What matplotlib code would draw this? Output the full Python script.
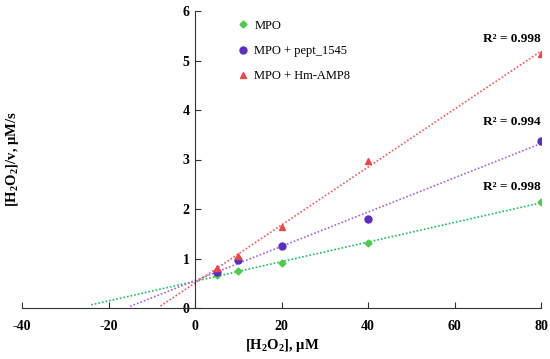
import numpy as np
import matplotlib
matplotlib.use("Agg")
import matplotlib.pyplot as plt

# Data
conc = [5, 10, 20, 40, 80]
mpo = [0.66, 0.75, 0.91, 1.31, 2.14]
mpo_pept = [0.73, 0.96, 1.26, 1.80, 3.38]
mpo_hm = [0.80, 1.05, 1.64, 2.97, 5.14]
labels = ["MPO", "MPO + pept_1545", "MPO + Hm-AMP8"]
r2_labels = ["R² = 0.998", "R² = 0.994", "R² = 0.998"]
backward = [24, 15, 8]
xticks = [-40, -20, 0, 20, 40, 60, 80]
yticks = [0, 1, 2, 3, 4, 5, 6]

marker_colors = ["#4ccb4c", "#5a2fbf", "#e84848"]
line_colors = ["#1cc05a", "#a860e0", "#f05a5a"]
markers = ["D", "o", "^"]
msizes = [3.5, 5, 5]

plt.rcParams['font.family'] = ['Liberation Serif', 'DejaVu Serif']
plt.rcParams['axes.unicode_minus'] = False
plt.rcParams['mathtext.fontset'] = 'custom'
plt.rcParams['mathtext.rm'] = 'Liberation Serif:bold'
plt.rcParams['mathtext.it'] = 'Liberation Serif:bold'
plt.rcParams['mathtext.bf'] = 'Liberation Serif:bold'

fig = plt.figure(figsize=(5.5, 3.59), dpi=100)
ax = fig.add_axes([22/550, 1-308/359, (541-22)/550, (308-11)/359])

series = [mpo, mpo_pept, mpo_hm]
r2_pos_y = [2.45, 3.76, 5.43]
for i, ys in enumerate(series):
    x = np.array(conc, dtype=float)
    y = np.array(ys, dtype=float)
    k, b = np.polyfit(x, y, 1)
    xl = np.array([-backward[i], 80.0])
    ax.plot(xl, k*xl + b, linestyle=(0, (1, 1.2)), color=line_colors[i], lw=1.2, zorder=2)
    ax.plot(x, y, linestyle='none', marker=markers[i], ms=msizes[i],
            color=marker_colors[i], label=labels[i], zorder=3)
    ax.text(80, r2_pos_y[i], r2_labels[i], ha='right', va='center',
            fontsize=9.5, fontweight='bold')

ax.set_xlim(-40, 80)
ax.set_ylim(0, 6)
ax.spines['left'].set_position(('data', 0))
ax.spines['top'].set_visible(False)
ax.spines['right'].set_visible(False)
ax.spines['left'].set_color('#333333')
ax.spines['bottom'].set_color('#333333')
ax.set_xticks(xticks)
ax.set_yticks(yticks)
ax.tick_params(axis='both', direction='in', length=4, labelsize=10, color='#333333')
for lab in ax.get_xticklabels() + ax.get_yticklabels():
    lab.set_fontweight('bold')
ax.tick_params(axis='x', pad=9)
ax.tick_params(axis='y', pad=4)

fig.text(282/550, 1-345/359, "[H$_2$O$_2$], µM", ha='center', va='center',
         fontsize=10.5, fontweight='bold')
fig.text(13/550, 1-159/359, "[H$_2$O$_2$]/v, µM/s", ha='center', va='center',
         rotation=90, fontsize=10.5, fontweight='bold')

leg = ax.legend(loc='upper left', bbox_to_anchor=((228-22)/519, 1.0), frameon=False,
                fontsize=9, handletextpad=0.4, labelspacing=1.05, handlelength=1,
                borderaxespad=0.3)

fig.savefig("out.png", dpi=100)
